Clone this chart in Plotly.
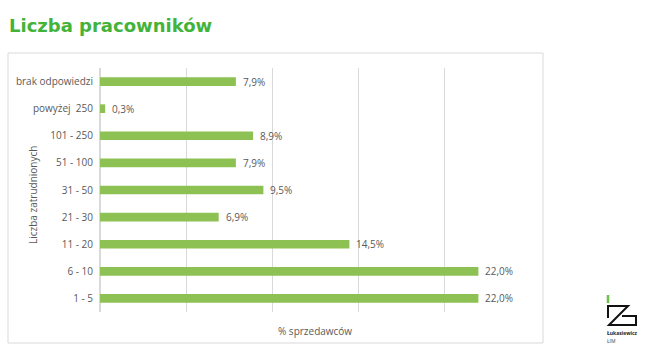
import plotly.graph_objects as go

categories = ["brak odpowiedzi", "powyżej  250", "101 - 250", "51 - 100", "31 - 50",
              "21 - 30", "11 - 20", "6 - 10", "1 - 5"]
values = [7.9, 0.3, 8.9, 7.9, 9.5, 6.9, 14.5, 22.0, 22.0]
labels = [f"{v:.1f}%".replace(".", ",") for v in values]

W, H = 656, 355
L, R, T, B = 100, 126, 68, 43
pw, ph = W - L - R, H - T - B

def px(x):
    return (x - L) / pw

def py(y):
    return (H - B - y) / ph

GREEN_BAR = "#8DC153"
GREY = "#595959"
FONT = "Open Sans, Liberation Sans, Arial, sans-serif"

fig = go.Figure(go.Bar(
    y=categories, x=values, orientation="h",
    marker=dict(color=GREEN_BAR, line=dict(width=0)),
    width=0.32, hoverinfo="x+y",
))

annotations = [
    dict(x=v, y=c, xref="x", yref="y", text=t, xanchor="left", yanchor="middle",
         xshift=5, showarrow=False, font=dict(size=10, color=GREY, family=FONT))
    for c, v, t in zip(categories, values, labels)
]

annotations += [
    dict(text="<b>Liczba pracowników</b>", xref="paper", yref="paper",
         x=px(7), y=py(26), xanchor="left", yanchor="middle", showarrow=False,
         font=dict(size=18, color="#43B33A", family="DejaVu Sans, Verdana, sans-serif")),
    dict(text="Liczba zatrudnionych", xref="paper", yref="paper",
         x=px(33), y=py(195), xanchor="center", yanchor="middle", textangle=-90,
         showarrow=False, font=dict(size=10, color=GREY, family=FONT)),
    dict(text="% sprzedawców", xref="paper", yref="paper",
         x=px(315), y=py(331), xanchor="center", yanchor="middle",
         showarrow=False, font=dict(size=10, color=GREY, family=FONT)),
    dict(text="<b>Łukasiewicz</b>", xref="paper", yref="paper",
         x=px(605), y=py(333), xanchor="left", yanchor="middle",
         showarrow=False, font=dict(size=5, color="#222222", family=FONT)),
    dict(text="ŁIM", xref="paper", yref="paper",
         x=px(605), y=py(341), xanchor="left", yanchor="middle",
         showarrow=False, font=dict(size=5, color="#444444", family=FONT)),
]

fig.update_layout(
    width=W, height=H,
    margin=dict(l=L, r=R, t=T, b=B),
    paper_bgcolor="white", plot_bgcolor="white",
    showlegend=False,
    xaxis=dict(range=[0, 25], dtick=5, showgrid=True, gridcolor="#D9D9D9", gridwidth=1,
               showticklabels=False, zeroline=True, zerolinecolor="#D9D9D9",
               showline=False, fixedrange=True),
    yaxis=dict(categoryorder="array", categoryarray=categories[::-1],
               showgrid=False, showline=False, ticks="",
               tickfont=dict(size=10, color=GREY, family=FONT), ticklabelstandoff=6),
    shapes=[
        dict(type="rect", xref="paper", yref="paper",
             x0=px(8), x1=px(543), y0=py(53), y1=py(343),
             line=dict(color="#D9D9D9", width=1), layer="below"),
        # logo
        dict(type="line", xref="paper", yref="paper",
             x0=px(608), x1=px(608), y0=py(295), y1=py(303),
             line=dict(color="#6CC04A", width=2.5)),
        dict(type="path", xref="paper", yref="paper",
             path=f"M {px(608)},{py(318)} L {px(608)},{py(306)} L {px(628)},{py(306)} "
                  f"L {px(609)},{py(325)} L {px(636)},{py(325)} L {px(636)},{py(316)} L {px(622)},{py(316)}",
             line=dict(color="#111111", width=2)),
    ],
    annotations=annotations,
)

fig.write_html("out.html")
